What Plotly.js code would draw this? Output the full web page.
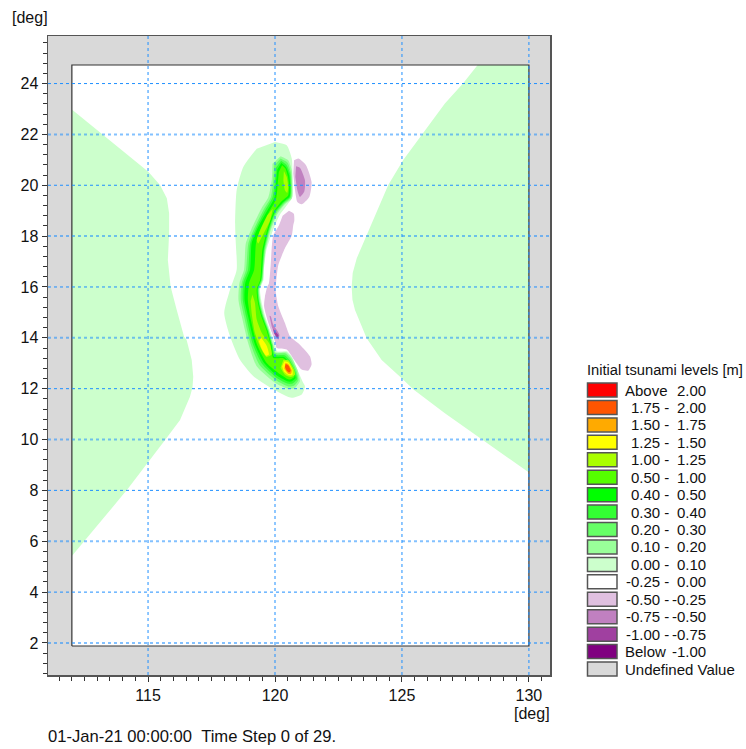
<!DOCTYPE html>
<html><head><meta charset="utf-8">
<script src="https://cdn.plot.ly/plotly-3.0.0.min.js"></script>
<style>html,body{margin:0;padding:0;background:#fff}</style></head>
<body><div id="chart" style="width:746px;height:749px"></div>
<script>
// Domain of the model (deg)
const domainLon=[112,130,130,112,112];
const domainLat=[1.88,1.88,24.73,24.73,1.88];
// Far-field 0.00-0.10 regions
const westLon=[112,113.24,114.16,115.01,115.47,115.74,115.83,115.83,115.78,115.89,116.13,116.42,116.52,116.72,116.78,116.75,116.65,116.26,115.67,115.01,114.22,113.24,112.52,112];
const westLat=[22.98,21.97,21.19,20.53,20.01,19.49,18.9,18.11,17.06,16.01,15.09,14.04,13.91,13.13,12.47,12.05,11.68,10.77,9.98,9.13,8.08,6.9,6.05,5.42];
const eastLon=[127.98,127.41,126.69,125.8,125.05,124.46,123.61,123.22,123.06,123.02,123.05,123.15,123.61,124.2,124.99,125.44,126.69,128.14,130,130];
const eastLat=[24.73,24.01,23.22,22.01,20.99,20.01,18.04,17.13,16.55,16.01,15.5,15.09,13.98,13.13,12.41,11.98,11.03,10.01,8.7,24.73];
// Central contours (outer level first)
const c000Lon=[120,120.46,120.66,120.69,120.69,120.52,120.18,119.92,119.66,119.56,119.55,119.41,119.48,119.61,119.8,120,120.09,120.46,120.66,120.88,121.11,121.18,121.05,120.66,120,119.15,118.62,118.23,118,118.23,118.49,118.45,118.43,118.49,118.75,119.28];
const c000Lat=[21.7,21.57,21.05,20.46,19.54,19.28,18.82,18.23,17.44,16.66,16.29,15.9,15.37,14.85,14.32,13.73,13.47,13.47,13.27,12.75,12.23,12.09,11.77,11.64,11.94,12.49,13.14,14.06,14.98,15.9,16.68,17.84,18.49,19.8,20.72,21.44];
const c010Lon=[120.22,120.52,120.66,120.68,120.66,120.39,120.09,119.83,119.63,119.55,119.52,119.38,119.44,119.57,119.76,119.93,120.04,120.43,120.66,120.88,120.98,120.79,120.52,120,119.28,118.95,118.69,118.56,118.6,118.78,118.85,119.08,119.46,119.74,119.87,119.9];
const c010Lat=[21.14,20.98,20.59,20,19.48,19.25,18.86,18.23,17.44,16.66,16.29,15.9,15.37,14.85,14.32,13.73,13.43,13.43,13.21,12.75,12.29,12.03,11.99,12.23,12.88,13.77,14.85,15.5,16.16,16.68,17.71,18.3,19.08,19.54,20.2,20.85];
const c020Lon=[120.22,120.5,120.62,120.66,120.63,120.37,120.05,119.79,119.6,119.53,119.5,119.36,119.41,119.54,119.74,119.91,120.01,120.41,120.62,120.83,120.92,120.75,120.52,120.04,119.38,119.04,118.78,118.65,118.69,118.86,118.95,119.18,119.54,119.84,119.93,119.97];
const c020Lat=[21.05,20.88,20.52,20,19.52,19.28,18.89,18.23,17.44,16.66,16.29,15.9,15.37,14.85,14.32,13.73,13.4,13.38,13.17,12.75,12.33,12.12,12.09,12.33,12.95,13.77,14.85,15.5,16.16,16.68,17.71,18.3,19.02,19.54,20.2,20.79];
const c030Lon=[120.24,120.46,120.59,120.63,120.6,120.34,120.01,119.76,119.57,119.51,119.47,119.33,119.38,119.52,119.71,119.88,119.99,120.38,120.58,120.77,120.87,120.69,120.52,120.07,119.48,119.12,118.86,118.73,118.75,118.94,119.02,119.25,119.6,119.9,120,120.04];
const c030Lat=[20.96,20.79,20.46,20,19.54,19.31,18.91,18.23,17.44,16.66,16.29,15.9,15.37,14.85,14.32,13.73,13.34,13.31,13.12,12.75,12.38,12.2,12.19,12.42,12.99,13.77,14.85,15.5,16.16,16.68,17.71,18.3,18.99,19.52,20.2,20.69];
const c040Lon=[120.25,120.43,120.56,120.6,120.58,120.31,119.99,119.73,119.55,119.49,119.45,119.31,119.36,119.49,119.69,119.86,119.96,120.35,120.54,120.72,120.81,120.64,120.52,120.09,119.57,119.2,118.94,118.8,118.83,119.02,119.08,119.31,119.67,119.97,120.05,120.09];
const c040Lat=[20.88,20.72,20.39,20,19.57,19.33,18.94,18.23,17.44,16.66,16.29,15.9,15.37,14.85,14.32,13.73,13.27,13.25,13.06,12.75,12.42,12.28,12.28,12.51,13.01,13.77,14.85,15.5,16.16,16.68,17.71,18.3,18.96,19.49,20.2,20.62];
const c050Lon=[120.28,120.41,120.51,120.55,120.52,120.26,119.95,119.69,119.5,119.45,119.42,119.28,119.33,119.46,119.66,119.83,119.93,120.33,120.5,120.68,120.76,120.59,120.52,120.13,119.67,119.28,119.02,118.93,118.98,119.18,119.25,119.42,119.76,120.04,120.12,120.15];
const c050Lat=[20.79,20.66,20.33,20,19.61,19.37,18.96,18.23,17.44,16.66,16.29,15.9,15.37,14.85,14.32,13.73,13.21,13.2,13.01,12.75,12.46,12.36,12.37,12.62,13.01,13.77,14.85,15.5,16.16,16.68,17.71,18.26,18.94,19.46,20.2,20.52];
const c100aLon=[120.35,120.46,120.52,120.48,120.39,120.33];
const c100aLat=[20.56,20.33,19.93,19.7,19.8,20.2];
const c100bLon=[119.91,119.8,119.5,119.34,119.28,119.45,119.7];
const c100bLat=[19.08,18.6,18,17.71,17.84,18.3,18.82];
const c100cLon=[119.11,119.21,119.28,119.48,119.8,119.87,119.67,119.44,119.21,119.08,119.04];
const c100cLat=[15.7,15.37,14.72,14.19,13.73,13.34,13.25,13.6,14.19,14.98,15.44];
const c100dLon=[120.33,120.52,120.75,120.79,120.62,120.39,120.22];
const c100dLat=[13.14,13.12,12.75,12.55,12.46,12.55,12.82];
const c125aLon=[119.44,119.67,119.76,119.65,119.48,119.37];
const c125aLat=[14.02,13.69,13.34,13.3,13.56,13.86];
const c125bLon=[120.37,120.52,120.69,120.69,120.56,120.35,120.28];
const c125bLat=[13.08,13.04,12.75,12.55,12.53,12.68,12.88];
const c150Lon=[120.41,120.52,120.66,120.63,120.52,120.37];
const c150Lat=[13.01,12.97,12.72,12.59,12.59,12.78];
const c175Lon=[120.42,120.52,120.62,120.56,120.46,120.39];
const c175Lat=[12.97,12.92,12.71,12.64,12.72,12.85];
// Negative lobes
const n025aLon=[120.75,120.92,121.22,121.44,121.35,121.05,120.88,120.79,120.72];
const n025aLat=[20.98,21.05,20.79,20.13,19.54,19.25,19.34,19.8,20.46];
const n050aLon=[120.83,120.98,121.18,121.15,120.98,120.88,120.8];
const n050aLat=[20.75,20.69,20.2,19.74,19.54,19.8,20.33];
const n025bLon=[120.55,120.74,120.76,120.72,120.66,120.39,120.13,120.04,120.02,120.13,120.39,120.59,120.98,121.38,121.44,121.31,121.05,120.75,120.46,120.07,120,119.74,119.57,119.6,119.7,119.76,119.83,119.87,119.93,120.16,120.3];
const n025bLat=[19,18.88,18.6,18.44,18.02,17.52,16.86,16.14,15.9,15.24,14.58,14.06,13.73,13.27,12.95,12.71,12.75,13.14,13.54,13.6,13.86,14.58,15.24,15.6,16.03,16.14,16.86,17.52,18.02,18.44,18.8];
const n050bLon=[119.78,119.83,119.93,120.17,120.13,120,119.87];
const n050bLat=[14.87,14.85,14.52,14.13,13.93,14.13,14.45];
const n075bLon=[119.93,120.14,120.09,119.96];
const n075bLat=[14.35,14.09,13.99,14.19];
// Legend
const legendTitle='Initial tsunami levels [m]';
const legendLow=['Above','1.75 -','1.50 -','1.25 -','1.00 -','0.50 -','0.40 -','0.30 -','0.20 -','0.10 -','0.00 -','-0.25 -','-0.50 -','-0.75 -','-1.00 -','Below'];
const legendHigh=['2.00','2.00','1.75','1.50','1.25','1.00','0.50','0.40','0.30','0.20','0.10','0.00','-0.25','-0.50','-0.75','-1.00'];
const levelColors=['#ff0000','#ff5500','#ffaa00','#ffff00','#aaff00','#55ff00','#00ff00','#33ff33','#66ff66','#99ff99','#ccffcc','#ffffff','#e0c0e0','#c080c0','#a040a0','#800080'];
const undefinedLabel='Undefined Value';
const undefinedColor='#d9d9d9';
const xGrid=[115,120,125,130];
const yGrid=[2,4,6,8,10,12,14,16,18,20,22,24];
const yGridSoft=[2,6,10,14,18,22];

const W=746,H=749,L=48,R=550,T=36,B=675;
const px=x=>(x-L)/(R-L), py=y=>(B-y)/(B-T);
const FONT='"Liberation Sans", Arial, sans-serif';
const col=i=>levelColors[i];
function poly(lon,lat,color,smooth){
  return {type:'scatter',mode:'lines',x:lon,y:lat,fill:'toself',fillcolor:color,
    line:{width:0,color:color,shape:smooth?'spline':'linear',smoothing:0.6},hoverinfo:'skip',showlegend:false};
}
const traces=[
  poly(domainLon,domainLat,'#ffffff',false),
  poly(westLon,westLat,col(10),false),
  poly(eastLon,eastLat,col(10),false),
  poly(n025aLon,n025aLat,col(12),true),
  poly(n050aLon,n050aLat,col(13),true),
  poly(n025bLon,n025bLat,col(12),true),
  poly(n050bLon,n050bLat,col(13),true),
  poly(n075bLon,n075bLat,col(14),true),
  poly(c000Lon,c000Lat,col(10),true),
  poly(c010Lon,c010Lat,col(9),true),
  poly(c020Lon,c020Lat,col(8),true),
  poly(c030Lon,c030Lat,col(7),true),
  poly(c040Lon,c040Lat,col(6),true),
  poly(c050Lon,c050Lat,col(5),true),
  poly(c100aLon,c100aLat,col(4),true),
  poly(c100bLon,c100bLat,col(4),true),
  poly(c100cLon,c100cLat,col(4),true),
  poly(c100dLon,c100dLat,col(4),true),
  poly(c125aLon,c125aLat,col(3),true),
  poly(c125bLon,c125bLat,col(3),true),
  poly(c150Lon,c150Lat,col(2),true),
  poly(c175Lon,c175Lat,col(1),true),
  {type:'scatter',mode:'lines',x:domainLon,y:domainLat,line:{width:1.2,color:'#333333'},hoverinfo:'skip',showlegend:false}
];
const shapes=[];
xGrid.forEach(v=>shapes.push({type:'line',xref:'x',yref:'paper',x0:v,x1:v,y0:0,y1:1,line:{color:'#1e8fff',width:1,dash:'dot'},layer:'above'}));
yGrid.forEach(v=>{
  const soft=yGridSoft.includes(v);
  shapes.push({type:'line',xref:'paper',yref:'y',x0:0,x1:1,y0:v,y1:v,opacity:soft?0.55:1,
    line:{color:'#1e8fff',width:soft?2:1,dash:'dot'},layer:'above'});
});
const annotations=[];
function label(text,x,y,anchor,size){
  annotations.push({xref:'paper',yref:'paper',x:px(x),y:py(y),text:text,showarrow:false,xanchor:anchor,yanchor:'middle',
    align:anchor,font:{family:FONT,size:size||15,color:'#111'},borderpad:0,borderwidth:0});
}
function swatch(color,yc){
  shapes.push({type:'rect',xref:'paper',yref:'paper',x0:px(587.5),x1:px(617),y0:py(yc-7),y1:py(yc+7),fillcolor:color,line:{color:'#555555',width:1.5},layer:'above'});
}
const rowH=17.44,row0=390;
label(legendTitle,587,370,'left',14.7);
levelColors.forEach((c,i)=>{
  const y=row0+i*rowH;
  swatch(c,y);
  if(legendLow[i]==='Above'||legendLow[i]==='Below') label(legendLow[i],625,y,'left');
  else label(legendLow[i],669,y,'right');
  label(legendHigh[i],706,y,'right');
});
swatch(undefinedColor,row0+16*rowH);
label(undefinedLabel,625,row0+16*rowH,'left');
label('[deg]',12,17,'left',16);
label('[deg]',550,713,'right',16);
label('01-Jan-21 00:00:00\u00a0\u00a0Time Step 0 of 29.',48,736,'left',16.6);

const layout={
  width:W,height:H,margin:{l:L,r:W-R,t:T,b:H-B,pad:0},
  paper_bgcolor:'#ffffff',plot_bgcolor:undefinedColor,showlegend:false,
  font:{family:FONT,size:16,color:'#111'},
  xaxis:{range:[111.06,130.83],tickmode:'array',tickvals:xGrid,ticks:'outside',ticklen:5,tickwidth:1,tickcolor:'#333',
    minor:{dtick:0.5,tick0:0,ticks:'outside',ticklen:4,tickcolor:'#333',showgrid:false},
    showgrid:false,zeroline:false,showline:true,mirror:true,linecolor:'#555',linewidth:1.5,tickfont:{size:16,family:FONT,color:'#111'}},
  yaxis:{range:[0.74,25.87],tickmode:'array',tickvals:yGrid,ticks:'outside',ticklen:5,tickwidth:1,tickcolor:'#333',
    minor:{dtick:0.4,tick0:2,ticks:'outside',ticklen:4,tickcolor:'#333',showgrid:false},
    showgrid:false,zeroline:false,showline:true,mirror:true,linecolor:'#555',linewidth:1.5,tickfont:{size:16,family:FONT,color:'#111'}},
  shapes:shapes,annotations:annotations
};
Plotly.newPlot('chart',traces,layout,{displayModeBar:false,staticPlot:true});
</script></body></html>
